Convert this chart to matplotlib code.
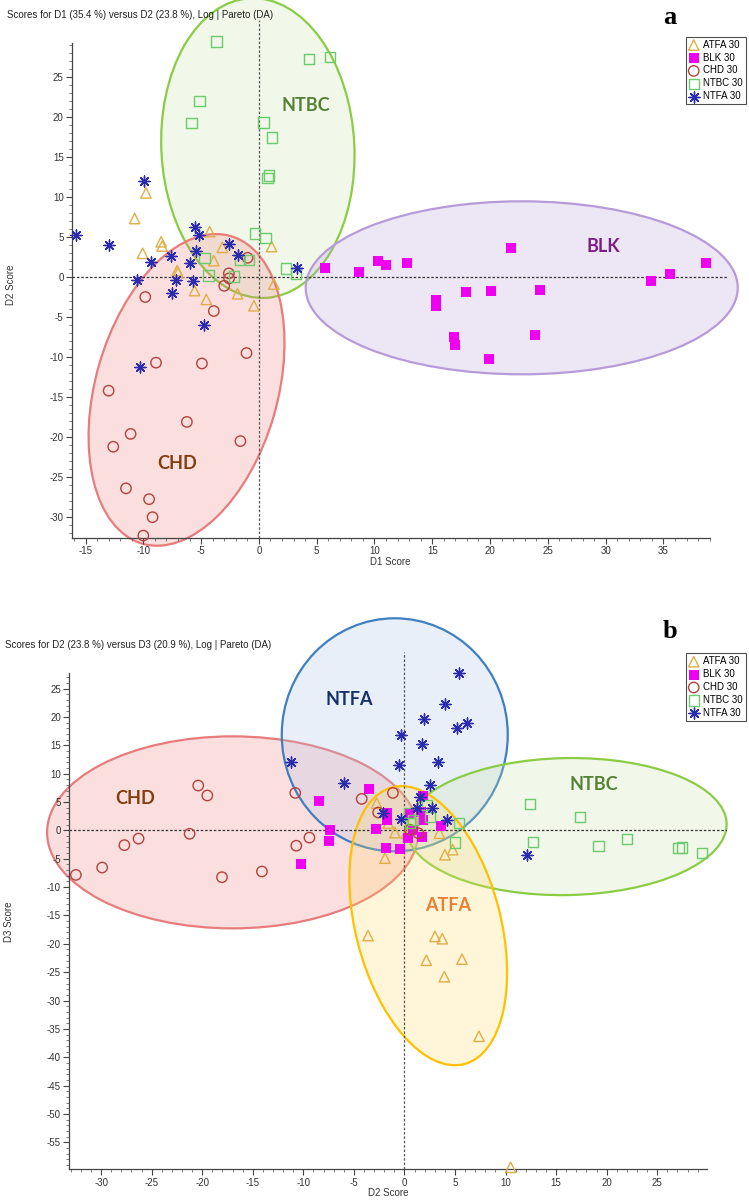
import matplotlib
matplotlib.use("Agg")
import matplotlib.pyplot as plt
import matplotlib.transforms as mtransforms
from matplotlib.patches import Ellipse
from matplotlib.colors import to_rgba
import numpy as np

plt.rcParams['font.family'] = ['Liberation Sans', 'DejaVu Sans']
plt.rcParams['axes.unicode_minus'] = False

groups = ["ATFA", "BLK", "CHD", "NTBC", "NTFA"]
legend_labels = ["ATFA 30", "BLK 30", "CHD 30", "NTBC 30", "NTFA 30"]

# ---- panel a : D1 score (x) vs D2 score (y)
a_atfa_x = [-9.77, -10.75, -8.46, -8.37, -10.06, -4.26, -3.16, -3.9, -7.07, -7.0, -5.57, -4.55, -1.85, -0.43, 1.1, 1.3]
a_atfa_y = [10.5, 7.3, 4.4, 3.87, 2.96, 5.67, 3.7, 2.04, 0.8, 0.55, -1.7, -2.8, -2.1, -3.6, 3.8, -0.88]
a_blk_x = [5.68, 8.7, 10.3, 10.96, 12.8, 15.3, 15.36, 17.9, 20.1, 21.8, 24.3, 16.9, 17.0, 23.9, 19.9, 33.9, 35.6, 38.7]
a_blk_y = [1.17, 0.58, 1.96, 1.46, 1.8, -2.9, -3.6, -1.9, -1.75, 3.67, -1.6, -7.45, -8.5, -7.3, -10.3, -0.46, 0.42, 1.7]
a_chd_x = [-0.98, -2.6, -2.58, -3.0, -9.83, -3.9, -1.07, -8.9, -4.93, -13.0, -6.23, -11.1, -12.6, -1.6, -11.5, -9.5, -9.2, -10.0]
a_chd_y = [2.4, 0.45, -0.17, -1.1, -2.5, -4.25, -9.5, -10.7, -10.8, -14.2, -18.1, -19.6, -21.2, -20.5, -26.4, -27.75, -30.0, -32.3]
a_ntbc_x = [-3.68, 4.35, 6.15, -5.13, -5.83, 0.4, 1.13, 0.9, 0.75, -0.35, 0.58, -4.72, -1.65, -0.84, 2.35, -4.35, -2.17, 3.2]
a_ntbc_y = [29.4, 27.25, 27.5, 22.0, 19.2, 19.3, 17.4, 12.7, 12.4, 5.45, 4.9, 2.4, 2.1, 2.1, 1.08, 0.17, 0.05, 0.46]
a_ntfa_x = [-15.8, -12.96, -9.94, -9.33, -7.6, -10.58, -7.2, -5.7, -5.57, -5.2, -5.48, -5.94, -2.58, -1.77, 3.28, -7.5, -4.75, -10.3]
a_ntfa_y = [5.3, 4.0, 12.0, 1.9, 2.6, -0.37, -0.37, -0.5, 6.3, 5.2, 3.3, 1.7, 4.1, 2.8, 1.1, -2.0, -6.0, -11.3]

# ---- panel b : D2 score (x) vs D3 score (y)
b_atfa_x = [-3.6, 3.02, 3.74, 2.16, 5.69, 3.94, 7.37, 10.5, -2.75, -1.6, -0.94, 0.2, -1.93, 4.0, 4.77, 3.45]
b_atfa_y = [-18.55, -18.7, -19.1, -22.9, -22.7, -25.8, -36.3, -59.4, 4.8, 1.27, -0.4, -0.5, -4.9, -4.3, -3.4, -0.5]
b_blk_x = [-8.5, -3.5, -7.37, -7.47, -10.27, -2.85, -1.86, -0.45, -1.7, -1.75, 1.86, 1.6, 0.54, 1.8, 0.38, 1.7, 3.58, 0.87]
b_blk_y = [5.1, 7.3, 0.0, -1.8, -5.97, 0.2, -3.1, -3.3, 3.1, 1.9, 6.1, 3.3, 3.0, 1.85, -1.4, -1.1, 0.8, 0.1]
b_chd_x = [-32.5, -29.9, -27.7, -26.3, -20.4, -19.5, -21.25, -18.05, -14.1, -10.8, -10.7, -9.4, -4.23, -1.14, -2.6, 0.54, 1.37]
b_chd_y = [-7.85, -6.55, -2.6, -1.45, 7.9, 6.15, -0.6, -8.25, -7.25, 6.6, -2.7, -1.27, 5.55, 6.6, 3.15, 0.1, -0.5]
b_ntbc_x = [12.4, 17.36, 12.7, 19.2, 22.0, 27.1, 27.45, 29.4, 5.0, 5.42, 2.52, 0.87, 0.54, 2.2, 0.45]
b_ntbc_y = [4.67, 2.4, -2.0, -2.8, -1.55, -3.1, -3.0, -4.0, -2.15, 1.27, 2.4, 1.85, 1.27, 4.5, 3.1]
b_ntfa_x = [5.42, 4.04, 1.96, 5.16, 6.18, 1.73, -0.38, 3.28, -0.57, -11.2, -5.95, 2.52, 1.53, 1.27, 2.69, 4.17, -0.38, -2.1, 12.1]
b_ntfa_y = [27.8, 22.3, 19.7, 18.1, 19.0, 15.3, 16.9, 12.1, 11.55, 12.1, 8.3, 8.0, 5.96, 3.9, 3.9, 1.85, 2.0, 3.1, -4.3]

panel_a = {
    "ATFA": (a_atfa_x, a_atfa_y), "BLK": (a_blk_x, a_blk_y), "CHD": (a_chd_x, a_chd_y),
    "NTBC": (a_ntbc_x, a_ntbc_y), "NTFA": (a_ntfa_x, a_ntfa_y),
}
panel_b = {
    "ATFA": (b_atfa_x, b_atfa_y), "BLK": (b_blk_x, b_blk_y), "CHD": (b_chd_x, b_chd_y),
    "NTBC": (b_ntbc_x, b_ntbc_y), "NTFA": (b_ntfa_x, b_ntfa_y),
}

styles = {
    "ATFA": dict(marker="^", facecolors="none", edgecolors="#E0AE48", s=56, linewidths=1.0),
    "BLK": dict(marker="s", c="#F000F0", s=42, linewidths=0),
    "CHD": dict(marker="o", facecolors="none", edgecolors="#B3423C", s=56, linewidths=1.0),
    "NTBC": dict(marker="s", facecolors="none", edgecolors="#6CCB6C", s=56, linewidths=1.0),
    "NTFA": dict(marker=(8, 2, 0), c="#2B2BB0", s=62, linewidths=1.0),
}

# confidence ellipses: centre (data), width/height in pixels, angle, edge, face
ell_a = [
    ((-0.09, 16.1), 193, 300, 3, "#8ACD45", "#C8E3A8"),
    ((-6.26, -14.1), 320, 182, 74, "#E87B7B", "#F08080"),
    ((22.74, -1.35), 432, 173, 0, "#B79BD8", "#B9A0DA"),
]
ell_b = [
    ((-17.0, -0.35), 371, 192, 0, "#E87B7B", "#F08080"),
    ((-0.96, 16.85), 226, 233, 0, "#3F7FC1", "#A9C3E8"),
    ((16.04, 0.67), 320, 137, 1, "#8ACD45", "#C8E3A8"),
    ((2.35, -16.8), 286, 145, 104.6, "#FFC000", "#FFD966"),
]

lbl_a = [("NTBC", 4.1, 21.4, "#548235"), ("CHD", -7.1, -23.3, "#843C0C"), ("BLK", 29.8, 3.8, "#7A1E83")]
lbl_b = [("NTFA", -5.45, 23.0, "#13306A"), ("CHD", -26.65, 5.55, "#843C0C"),
         ("NTBC", 18.7, 8.15, "#548235"), ("ATFA", 4.27, -13.3, "#ED7D31")]

W, H = 749, 1200
fig = plt.figure(figsize=(W / 100, H / 100), dpi=100)


def add_ellipse(ax, centre, w, h, ang, edge, face):
    tr = mtransforms.Affine2D().scale(fig.dpi / 100) + mtransforms.ScaledTranslation(centre[0], centre[1], ax.transData)
    e = Ellipse((0, 0), w, h, angle=ang, transform=tr, facecolor=to_rgba(face, 0.25),
                edgecolor=edge, lw=1.6, clip_on=False, zorder=1)
    ax.add_patch(e)


def draw_panel(ax, data, ellipses, labels, xlim, ylim, xspan, yspan, xt, yt, legend_top):
    for e in ellipses:
        add_ellipse(ax, *e)
    ax.axhline(0, color="#333333", lw=0.9, ls=(0, (2, 1.5)), zorder=1.5)
    ax.axvline(0, color="#555555", lw=0.9, ls=(0, (2, 1.5)), zorder=1.5)
    handles = []
    for g in groups:
        x, y = data[g]
        h = ax.scatter(x, y, zorder=3, clip_on=False, **styles[g])
        handles.append(h)
    for txt, x, y, col in labels:
        ax.text(x, y, txt, color=col, fontsize=13, fontweight="bold", family="Lato",
                ha="center", va="center", zorder=4)
    ax.set_xlim(*xlim)
    ax.set_ylim(*ylim)
    for s in ["top", "right"]:
        ax.spines[s].set_visible(False)
    ax.spines["bottom"].set_bounds(*xspan)
    ax.spines["left"].set_bounds(*yspan)
    for s in ["bottom", "left"]:
        ax.spines[s].set_color("#444444")
        ax.spines[s].set_linewidth(0.9)
    ax.set_xticks(xt)
    ax.set_yticks(yt)
    ax.set_xticks(np.arange(np.ceil(xspan[0]), xspan[1] + 0.01, 1), minor=True)
    ax.set_yticks(np.arange(np.ceil(yspan[0]), yspan[1] + 0.01, 1), minor=True)
    ax.tick_params(which="major", length=4, width=0.8, color="#444444", labelsize=7, labelcolor="#333333", pad=2)
    ax.tick_params(which="minor", length=2, width=0.6, color="#666666")
    ax.set_facecolor("none")
    leg = ax.legend(handles, legend_labels, loc="upper right", bbox_to_anchor=(746 / W, 1 - legend_top / H),
                    bbox_transform=fig.transFigure, borderaxespad=0, fontsize=7, frameon=True, fancybox=False,
                    handletextpad=0.5, borderpad=0.3, labelspacing=0.3, handlelength=1.0, scatterpoints=1)
    leg.get_frame().set_edgecolor("#222222")
    leg.get_frame().set_linewidth(0.8)


ax_a = fig.add_axes([72 / W, 1 - 538 / H, (727 - 72) / W, (538 - 20) / H])
draw_panel(ax_a, panel_a, ell_a, lbl_a, (-16.17, 40.5), (-32.6, 32.1), (-16.17, 39.0), (-32.6, 29.25),
           np.arange(-15, 40, 5), np.arange(-30, 30, 5), 36.7)

ax_b = fig.add_axes([69.3 / W, 1 - 1169.3 / H, (727 - 69.3) / W, (1169.3 - 651.7) / H])
draw_panel(ax_b, panel_b, ell_b, lbl_b, (-33.15, 31.9), (-59.75, 31.5), (-33.15, 29.9), (-59.75, 27.7),
           np.arange(-30, 30, 5), np.arange(-55, 30, 5), 653.3)

fig.text(7 / W, 1 - 14.7 / H, "Scores for D1 (35.4 %) versus D2 (23.8 %), Log | Pareto (DA)",
         fontsize=7, color="#222222", ha="left", va="center")
fig.text(5 / W, 1 - 645 / H, "Scores for D2 (23.8 %) versus D3 (20.9 %), Log | Pareto (DA)",
         fontsize=7, color="#222222", ha="left", va="center")
fig.text(390 / W, 1 - 561.7 / H, "D1 Score", fontsize=7, color="#333333", ha="center", va="center")
fig.text(11 / W, 1 - 285 / H, "D2 Score", fontsize=7, color="#333333", ha="center", va="center", rotation=90)
fig.text(388.3 / W, 1 - 1193.3 / H, "D2 Score", fontsize=7, color="#333333", ha="center", va="center")
fig.text(9.3 / W, 1 - 921.7 / H, "D3 Score", fontsize=7, color="#333333", ha="center", va="center", rotation=90)
fig.text(670 / W, 1 - 18 / H, "a", fontsize=19, fontweight="bold", family="Liberation Serif",
         ha="center", va="center")
fig.text(670 / W, 1 - 632 / H, "b", fontsize=19, fontweight="bold", family="Liberation Serif",
         ha="center", va="center")

fig.savefig("out.png", dpi=100)
